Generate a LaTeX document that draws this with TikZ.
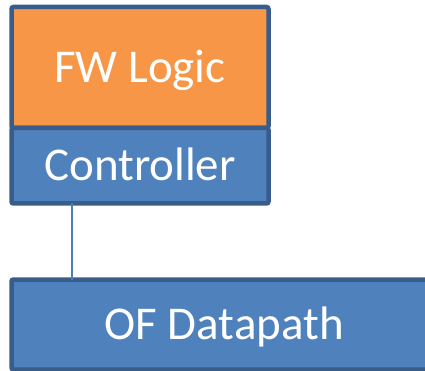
\documentclass[tikz,border=0pt]{standalone}
\usepackage{fontspec}
\setmainfont{Carlito}
\usetikzlibrary{positioning}
\definecolor{FWorange}{HTML}{F79646}
\definecolor{OFblue}{HTML}{4F81BD}
\definecolor{OFborder}{HTML}{385D8A}
\definecolor{OFlink}{HTML}{4A7EBB}
\tikzset{
    stackbox/.style={
        rectangle,
        rounded corners=2pt,
        draw=OFborder,
        line width=4.5pt,
        fill=OFblue,
        text=white,
        outer sep=0pt,
        inner sep=0pt,
        font=\fontsize{47}{50}\selectfont,
        text height=30pt,
        text depth=0pt
    },
    fwbox/.style={
        stackbox,
        fill=FWorange,
        minimum width=257pt,
        minimum height=121pt
    },
    ctrlbox/.style={
        stackbox,
        minimum width=257pt,
        minimum height=75.5pt
    },
    pathbox/.style={
        stackbox,
        minimum width=425.5pt,
        minimum height=90pt
    },
    link/.style={
        draw=OFlink,
        line width=1.5pt
    }
}
\begin{document}
\begin{tikzpicture}[x=1pt, y=-1pt]
    \useasboundingbox (0,0) rectangle (425,371);
    \node[fwbox] (fw) at (140,67.5) {FW Logic};
    \node[ctrlbox, below=0pt of fw] (ctrl) {Controller};
    \node[pathbox, anchor=north west] (dp) at (11.5,279.5) {OF Datapath};

    \coordinate (tap) at (72,0);
    \draw[link] (ctrl.south -| tap) -- (dp.north -| tap);
\end{tikzpicture}
\end{document}
